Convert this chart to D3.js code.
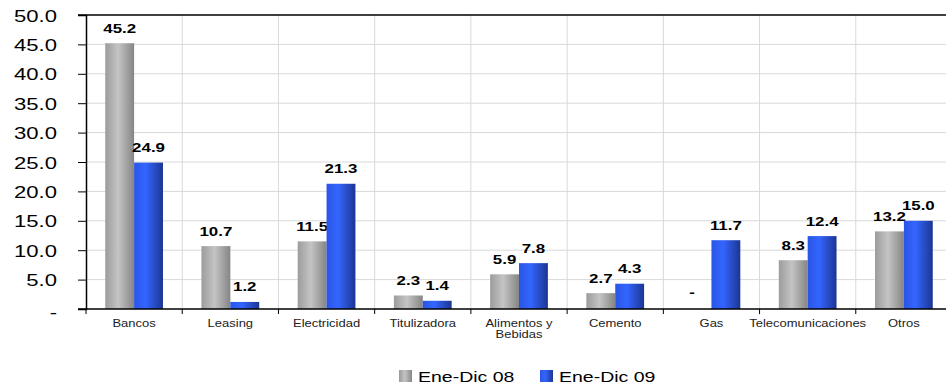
<!DOCTYPE html>
<html>
<head>
<meta charset="utf-8">
<script src="https://cdn.jsdelivr.net/npm/d3@7"></script>
<style>
  html, body { margin: 0; padding: 0; background: #fff; }
  svg { display: block; font-family: "Liberation Sans", Arial, sans-serif; }
</style>
</head>
<body>
<svg id="chart" width="946" height="388"></svg>
<script>
// Sector categories (second line of a label after "|")
const categories = ["Bancos", "Leasing", "Electricidad", "Titulizadora", "Alimentos y|Bebidas",
                    "Cemento", "Gas", "Telecomunicaciones", "Otros"];
// Series values (null = no amount, shown as "-")
const serie08 = [45.2, 10.7, 11.5, 2.3, 5.9, 2.7, null, 8.3, 13.2];
const serie09 = [24.9, 1.2, 21.3, 1.4, 7.8, 4.3, 11.7, 12.4, 15.0];
const seriesNames = ["Ene-Dic 08", "Ene-Dic 09"];
const yTicks = [0, 5, 10, 15, 20, 25, 30, 35, 40, 45, 50];

const svg = d3.select("#chart");
const SX = 1.3; // wide text rendering

const plotLeft = 86, plotTop = 15, plotBottom = 309, plotRight = 952;

const x = d3.scaleBand().domain(categories).range([plotLeft, plotRight]).paddingInner(0).paddingOuter(0);
const y = d3.scaleLinear().domain([0, 50]).range([plotBottom, plotTop]);
const bw = x.bandwidth();
const barW = bw * 0.3;

// gradients
const defs = svg.append("defs");
function grad(id, stops) {
  const g = defs.append("linearGradient").attr("id", id)
    .attr("x1", "0%").attr("y1", "0%").attr("x2", "100%").attr("y2", "0%");
  stops.forEach(([o, c]) => g.append("stop").attr("offset", o).attr("stop-color", c));
}
grad("gGray", [["0%", "#9c9c9c"], ["45%", "#c4c4c4"], ["100%", "#858585"]]);
grad("gBlue", [["0%", "#2a55e6"], ["40%", "#3366ff"], ["100%", "#1c3592"]]);
const fills = ["url(#gGray)", "url(#gBlue)"];

// gridlines
const grid = svg.append("g");
grid.selectAll("line.h").data(yTicks.filter(d => d > 0 && d < 50)).join("line")
  .attr("x1", plotLeft).attr("x2", plotRight).attr("y1", d => y(d)).attr("y2", d => y(d))
  .attr("stroke", "#d9d9d9").attr("stroke-width", 1);
grid.selectAll("line.v").data(d3.range(1, categories.length + 1)).join("line")
  .attr("x1", i => plotLeft + bw * i).attr("x2", i => plotLeft + bw * i)
  .attr("y1", plotTop).attr("y2", plotBottom)
  .attr("stroke", "#d9d9d9").attr("stroke-width", 1);

// top border
svg.append("line").attr("x1", plotLeft - 8).attr("x2", plotRight).attr("y1", y(50)).attr("y2", y(50))
  .attr("stroke", "#000").attr("stroke-width", 1.5);

// bars and value labels
const series = [serie08, serie09];
series.forEach((vals, s) => {
  const g = svg.append("g");
  const rows = categories.map((c, i) => ({ c, v: vals[i] }));
  g.selectAll("rect").data(rows.filter(d => d.v != null))
    .join("rect")
    .attr("x", d => x(d.c) + bw * 0.2 + s * barW)
    .attr("width", barW)
    .attr("y", d => y(d.v))
    .attr("height", d => y(0) - y(d.v))
    .attr("fill", fills[s]);
  g.selectAll("text").data(rows)
    .join("text")
    .attr("transform", d => `translate(${x(d.c) + bw * 0.2 + s * barW + barW / 2 - (d.v == null ? 5 : 0)},${y(d.v == null ? 0 : d.v) - (d.v == null ? 12 : 10.5)}) scale(${SX},1)`)
    .attr("text-anchor", "middle")
    .attr("font-size", 13).attr("font-weight", "bold").attr("fill", "#000")
    .text(d => d.v == null ? "-" : d3.format(".1f")(d.v));
});

// y axis
const yAxis = d3.axisLeft(y).tickValues(yTicks).tickSize(8).tickFormat(d => d === 0 ? "-" : d3.format(".1f")(d));
const ya = svg.append("g").attr("transform", `translate(${plotLeft},0)`).call(yAxis);
ya.select(".domain").attr("stroke", "#000").attr("stroke-width", 1.5);
ya.selectAll(".tick line").attr("stroke", "#000");
ya.selectAll(".tick text")
  .attr("x", null).attr("dy", null)
  .attr("font-family", "Liberation Sans, Arial, sans-serif")
  .attr("font-size", 17).attr("fill", "#000")
  .attr("text-anchor", "end")
  .attr("transform", d => `translate(${57 - plotLeft},${d === 0 ? 8 : 6}) scale(${SX},1)`);

// x axis
const xa = svg.append("g").attr("transform", `translate(0,${plotBottom})`);
xa.append("line").attr("x1", plotLeft - 8).attr("x2", plotRight).attr("stroke", "#000").attr("stroke-width", 1.5);
xa.selectAll("line.t").data(d3.range(categories.length + 1)).join("line")
  .attr("x1", i => plotLeft + bw * i).attr("x2", i => plotLeft + bw * i)
  .attr("y1", 0).attr("y2", 5).attr("stroke", "#000");
const cl = xa.selectAll("text").data(categories).join("text")
  .attr("transform", d => `translate(${x(d) + bw / 2},${17.5}) scale(${SX},1)`)
  .attr("text-anchor", "middle").attr("font-size", 10).attr("fill", "#222");
cl.each(function (d) {
  const parts = d.split("|");
  parts.forEach((p, k) => d3.select(this).append("tspan").attr("x", 0).attr("dy", k ? 12 : 0).text(p));
});

// legend
const legend = svg.append("g");
const legX = [399, 540];
seriesNames.forEach((n, s) => {
  legend.append("rect").attr("x", legX[s]).attr("y", 370).attr("width", 13).attr("height", 12)
    .attr("fill", fills[s]);
  legend.append("text").attr("transform", `translate(${legX[s] + 19},${382}) scale(${SX},1)`)
    .attr("font-size", 15).attr("fill", "#000").text(n);
});
</script>
</body>
</html>
